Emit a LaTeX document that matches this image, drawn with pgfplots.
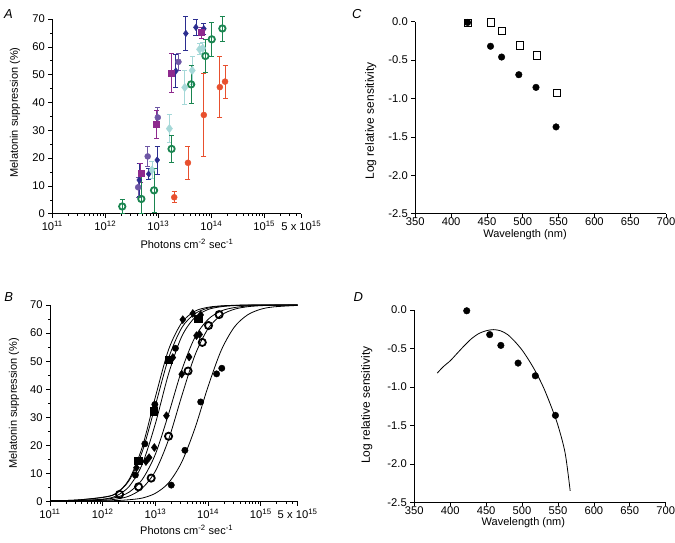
\documentclass[border=0pt]{standalone}
\usepackage{fontspec}
\setmainfont{Liberation Sans}
\usepackage{pgfplots}
\pgfplotsset{compat=1.18}

\definecolor{dblue}{HTML}{2B2D8F}
\definecolor{vpurp}{HTML}{6E57A5}
\definecolor{magsq}{HTML}{8E2A8E}
\definecolor{lcyan}{HTML}{A5D8D8}
\definecolor{dgreen}{HTML}{1A8550}
\definecolor{ored}{HTML}{E8502E}

\pgfplotsset{
  mypanel/.style={
    scale only axis, axis lines=left, axis line style={-, line width=0.7pt},
    tick align=outside, major tick length=4pt, minor tick length=2pt,
    every tick/.style={black, line width=0.6pt},
    tick label style={font=\fontsize{11.2}{13}\selectfont},
    label style={font=\fontsize{11}{13}\selectfont},
    /pgf/number format/assume math mode=true,
    clip=false,
  },
  myebar/.style={
    /pgfplots/error bars/y dir=both, /pgfplots/error bars/y explicit,
    /pgfplots/error bars/error bar style={line width=0.8pt, #1},
    /pgfplots/error bars/error mark options={rotate=90, mark size=2.5pt, line width=0.8pt, #1}},
  myfit/.style={black, line width=0.8pt, smooth, no marks},
}

\begin{document}
\begin{tikzpicture}
\useasboundingbox (0,0) rectangle (675pt,-542pt);

% ---------------- A ----------------
\begin{axis}[mypanel, xmode=log, xmin=1e11, xmax=5e15, ymin=0, ymax=70,
  xtick={1e11,1e12,1e13,1e14,1e15,5e15},
  xticklabels={10\textsuperscript{11},10\textsuperscript{12},10\textsuperscript{13},10\textsuperscript{14},10\textsuperscript{15},5 x 10\textsuperscript{15}},
  minor xtick={2e11,3e11,4e11,5e11,6e11,7e11,8e11,9e11,
               2e12,3e12,4e12,5e12,6e12,7e12,8e12,9e12,
               2e13,3e13,4e13,5e13,6e13,7e13,8e13,9e13,
               2e14,3e14,4e14,5e14,6e14,7e14,8e14,9e14,
               2e15,3e15,4e15},
  ytick={0,10,...,70}, minor ytick={5,15,...,65},
  xlabel={Photons cm\textsuperscript{-2} sec\textsuperscript{-1}},
  ylabel={Melatonin suppression (\%)},
  at={(52.3pt,-213.7pt)}, anchor=south west,
  width=249pt, height=194.7pt,
  xlabel style={at={(axis description cs:0.541,-0.156)}, anchor=center},
  ylabel style={at={(axis description cs:-0.150,0.52)}, anchor=center}]
\addplot[only marks, mark=diamond*, mark size=3.3pt, color=dblue, myebar=dblue] coordinates {
  (4.37e12,12.1) +- (0,6) (6.61e12,14.3) +- (0,2) (9.55e12,19.3) +- (0,5)
  (2.14e13,51.3) +- (0,6) (3.31e13,64.8) +- (0,6) (5.13e13,67.0) +- (0,3)
  (7.24e13,66.5) +- (0,2)};
\addplot[only marks, mark=*, mark size=3pt, color=vpurp, myebar=vpurp] coordinates {
  (4.17e12,9.5) +- (0,3.5) (6.31e12,20.6) +- (0,3.5) (9.77e12,34.6) +- (0,3.5)
  (2.40e13,54.6) +- (0,3)};
\addplot[only marks, mark=square*, mark size=3pt, color=magsq, myebar=magsq] coordinates {
  (4.68e12,14.6) +- (0,3.5) (9.33e12,32.2) +- (0,5) (1.78e13,50.5) +- (0,7)
  (6.46e13,65.1) +- (0,2)};
\addplot[only marks, mark=diamond*, mark size=4.2pt, color=lcyan, myebar=lcyan] coordinates {
  (7.59e12,15.7) +- (0,3) (1.62e13,30.6) +- (0,5) (3.16e13,45.4) +- (0,6)
  (4.37e13,51.5) +- (0,5) (6.03e13,59.1) +- (0,2) (6.92e13,59.5) +- (0,2)};
\addplot[only marks, mark=o, mark size=3.2pt, color=dgreen, mark options={line width=1.8pt}, myebar=dgreen] coordinates {
  (2.09e12,2.6) +- (0,2.5) (4.79e12,5.3) += (0,9) -= (0,5.3) (8.32e12,8.4) +- (0,8)
  (1.78e13,23.3) +- (0,5) (4.17e13,46.5) +- (0,7) (7.76e13,56.7) +- (0,6)
  (1.02e14,62.7) +- (0,6) (1.62e14,66.6) +- (0,4.5)};
\addplot[only marks, mark=*, mark size=3pt, color=ored, myebar=ored] coordinates {
  (2.00e13,5.9) +- (0,2) (3.63e13,18.3) +- (0,6) (7.24e13,35.5) +- (0,15)
  (1.45e14,45.5) +- (0,11) (1.82e14,47.5) +- (0,6)};
\end{axis}

% ---------------- B ----------------
\begin{axis}[mypanel, xmode=log, xmin=1e11, xmax=5e15, ymin=0, ymax=70,
  xtick={1e11,1e12,1e13,1e14,1e15,5e15},
  xticklabels={10\textsuperscript{11},10\textsuperscript{12},10\textsuperscript{13},10\textsuperscript{14},10\textsuperscript{15},5 x 10\textsuperscript{15}},
  minor xtick={2e11,3e11,4e11,5e11,6e11,7e11,8e11,9e11,
               2e12,3e12,4e12,5e12,6e12,7e12,8e12,9e12,
               2e13,3e13,4e13,5e13,6e13,7e13,8e13,9e13,
               2e14,3e14,4e14,5e14,6e14,7e14,8e14,9e14,
               2e15,3e15,4e15},
  ytick={0,10,...,70}, minor ytick={5,15,...,65},
  xlabel={Photons cm\textsuperscript{-2} sec\textsuperscript{-1}},
  ylabel={Melatonin suppression (\%)},
  at={(50pt,-501.7pt)}, anchor=south west,
  width=247.6pt, height=196.7pt,
  xlabel style={at={(axis description cs:0.552,-0.144)}, anchor=center},
  ylabel style={at={(axis description cs:-0.145,0.5)}, anchor=center}]
\addplot[myfit] coordinates {(1e11,0.3) (3.162e11,0.6) (1e12,1.6) (1.778e12,2.9) (3.162e12,7.9)
  (5.623e12,19.4) (1e13,37.3) (1.778e13,54.1) (3.162e13,63.7) (5.623e13,67.8) (1e14,69.2)
  (1.778e14,69.7) (3.162e14,69.9) (5.623e14,70) (1e15,70) (5e15,70)};
\addplot[myfit] coordinates {(1e11,0.3) (3.162e11,0.6) (1e12,1.5) (1.778e12,2.9) (3.162e12,7.5)
  (5.623e12,17.8) (1e13,34.3) (1.778e13,51.1) (3.162e13,61.9) (5.623e13,66.9) (1e14,68.9)
  (1.778e14,69.6) (3.162e14,69.85) (5.623e14,69.95) (1e15,70) (5e15,70)};
\addplot[myfit] coordinates {(1e11,0.3) (3.162e11,0.4) (1e12,0.9) (1.778e12,2.0) (3.162e12,5.4)
  (5.623e12,13.3) (1e13,27.8) (1.778e13,45.5) (3.162e13,58.8) (5.623e13,65.6) (1e14,68.4)
  (1.778e14,69.4) (3.162e14,69.8) (5.623e14,69.93) (1e15,69.98) (5e15,70)};
\addplot[myfit] coordinates {(1e11,0.3) (3.162e11,0.4) (1e12,0.8) (1.778e12,1.5) (3.162e12,3.4)
  (5.623e12,7.9) (1e13,16.9) (1.778e13,31.2) (3.162e13,46.8) (5.623e13,58.5) (1e14,64.9)
  (1.778e14,67.9) (3.162e14,69.1) (5.623e14,69.65) (1e15,69.86) (1.778e15,69.95) (5e15,70)};
\addplot[myfit] coordinates {(1e11,0.3) (3.162e11,0.3) (1e12,0.5) (1.778e12,0.9) (3.162e12,2.0)
  (5.623e12,4.8) (1e13,10.9) (1.778e13,22.1) (3.162e13,37.6) (5.623e13,52.1) (1e14,61.6)
  (1.778e14,66.4) (3.162e14,68.5) (5.623e14,69.4) (1e15,69.76) (1.778e15,69.9) (5e15,69.98)};
\addplot[myfit] coordinates {(1e11,0.2) (3.162e11,0.2) (1e12,0.3) (1.778e12,0.4) (3.162e12,0.7)
  (5.623e12,1.3) (1e13,3.0) (1.778e13,6.7) (3.162e13,14.1) (5.623e13,26.1) (1e14,41.0)
  (1.778e14,53.9) (3.162e14,62.2) (5.623e14,66.5) (1e15,68.5) (1.778e15,69.35) (5e15,69.86)};
\addplot[only marks, mark=diamond*, mark size=4pt, black] coordinates {
  (4.37e12,12.1) (6.61e12,14.3) (9.55e12,19.3) (2.14e13,51.3) (3.31e13,64.8)
  (5.13e13,67.0) (7.24e13,66.5)
  (7.59e12,15.7) (1.62e13,30.6) (3.16e13,45.4) (4.37e13,51.5) (6.03e13,59.1) (6.92e13,59.5)};
\addplot[only marks, mark=*, mark size=3.2pt, black] coordinates {
  (4.17e12,9.5) (6.31e12,20.6) (9.77e12,34.6) (2.40e13,54.6)
  (2.00e13,5.9) (3.63e13,18.3) (7.24e13,35.5) (1.45e14,45.5) (1.82e14,47.5)};
\addplot[only marks, mark=square*, mark size=3.8pt, black] coordinates {
  (4.68e12,14.6) (9.33e12,32.2) (1.78e13,50.5) (6.46e13,65.1)};
\addplot[only marks, mark=o, mark size=3.6pt, black, mark options={line width=1.8pt, fill=white}] coordinates {
  (2.09e12,2.6) (4.79e12,5.3) (8.32e12,8.4) (1.78e13,23.3) (4.17e13,46.5)
  (7.76e13,56.7) (1.02e14,62.7) (1.62e14,66.6)};
\end{axis}

% ---------------- C ----------------
\begin{axis}[mypanel, xmin=350, xmax=700, ymin=-2.5, ymax=0,
  xtick={350,400,...,700},
  ytick={-2.5,-2,-1.5,-1,-0.5,0},
  yticklabels={-2.5,-2.0,-1.5,-1.0,-0.5,0.0},
  xticklabel style={yshift=3.5pt},
  xlabel={Wavelength (nm)}, ylabel={Log relative sensitivity},
  at={(415.3pt,-213.7pt)}, anchor=south west,
  width=250.7pt, height=192pt,
  xlabel style={at={(axis description cs:0.4376,-0.107)}, anchor=center},
  ylabel style={at={(axis description cs:-0.178,0.484)}, anchor=center, font=\fontsize{12}{14}\selectfont}]
\addplot[only marks, mark=*, mark size=3.3pt, black] coordinates {
  (423,-0.01) (455,-0.32) (470.5,-0.46) (494.5,-0.69) (518.5,-0.855) (546.5,-1.37)};
\addplot[only marks, mark=square, mark size=3.6pt, black, mark options={line width=0.9pt}] coordinates {
  (423.5,-0.02) (456,-0.01) (471.5,-0.12) (496,-0.31) (520,-0.44) (548,-0.925)};
\end{axis}

% ---------------- D ----------------
\begin{axis}[mypanel, xmin=350, xmax=700, ymin=-2.5, ymax=0,
  xtick={350,400,...,700},
  ytick={-2.5,-2,-1.5,-1,-0.5,0},
  yticklabels={-2.5,-2.0,-1.5,-1.0,-0.5,0.0},
  xticklabel style={yshift=3.5pt},
  xlabel={Wavelength (nm)}, ylabel={Log relative sensitivity},
  at={(414.3pt,-502.3pt)}, anchor=south west,
  width=251.4pt, height=192.3pt,
  xlabel style={at={(axis description cs:0.434,-0.108)}, anchor=center},
  ylabel style={at={(axis description cs:-0.189,0.506)}, anchor=center, font=\fontsize{12}{14}\selectfont}]
\addplot[myfit] coordinates {
  (382,-0.82) (390,-0.74) (400,-0.66) (410,-0.56) (420,-0.46) (430,-0.37) (440,-0.305)
  (450,-0.27) (460,-0.255) (470,-0.27) (480,-0.32) (490,-0.41) (500,-0.52) (510,-0.66)
  (520,-0.82) (530,-1.01) (540,-1.24) (550,-1.50) (560,-1.86) (567,-2.35)};
\addplot[only marks, mark=*, mark size=3.3pt, black] coordinates {
  (423,-0.01) (455,-0.32) (470.5,-0.46) (494.5,-0.69) (518.5,-0.855) (546.5,-1.37)};
\end{axis}

% panel letters
\node[font=\fontsize{13}{15}\selectfont\itshape] at (8.5pt,-13.8pt) {A};
\node[font=\fontsize{13}{15}\selectfont\itshape] at (8.7pt,-296.7pt) {B};
\node[font=\fontsize{13}{15}\selectfont\itshape] at (356.7pt,-13.8pt) {C};
\node[font=\fontsize{13}{15}\selectfont\itshape] at (358.3pt,-296.7pt) {D};
\end{tikzpicture}
\end{document}
